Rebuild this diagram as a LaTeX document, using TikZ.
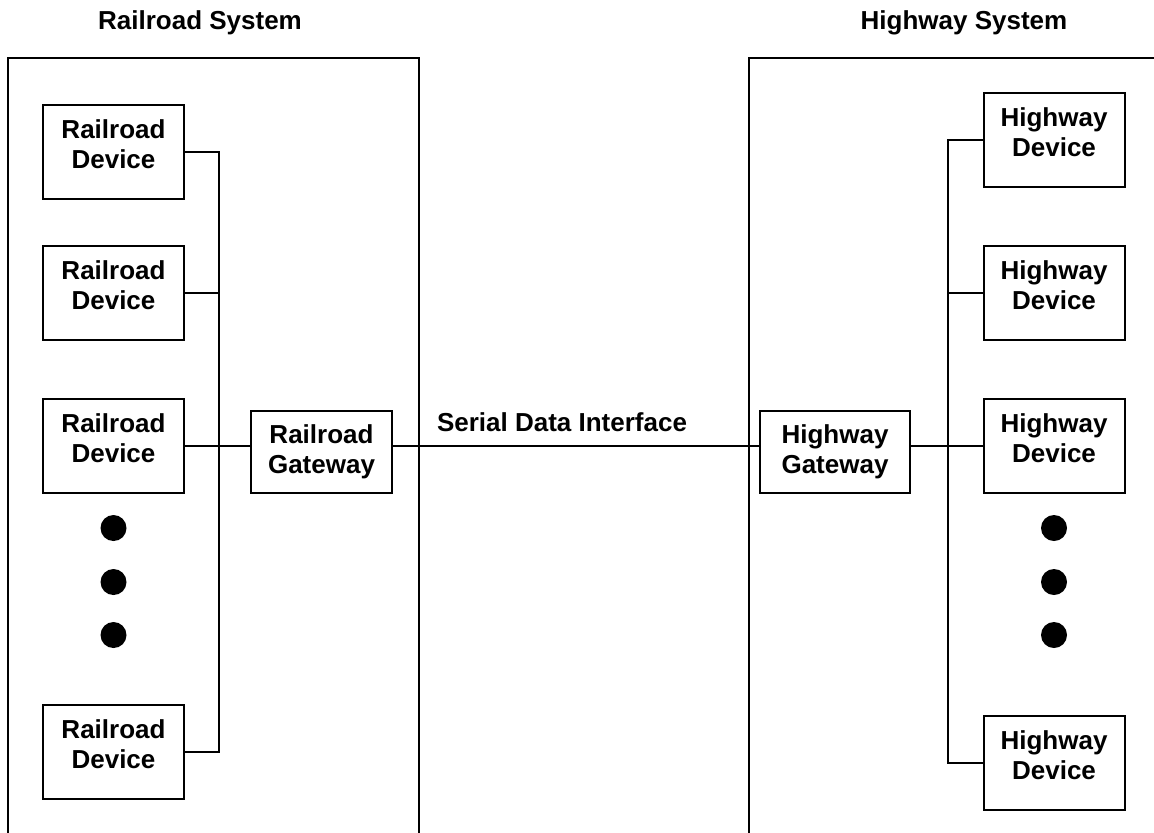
\documentclass[tikz,border=0pt]{standalone}
\usepackage{fontspec}
\setmainfont{Liberation Sans}
\usetikzlibrary{calc}

\begin{document}
\begin{tikzpicture}[x=0.5pt,y=-0.5pt,line width=1pt,
		devbox/.style={draw,minimum width=70.5pt,minimum height=47pt,inner sep=0pt},
		gwbox/.style={draw,minimum height=41pt,inner sep=0pt},
		lbl/.style={font=\fontsize{13}{15}\selectfont\bfseries,align=center,inner sep=0pt}]
		\useasboundingbox (0,0) rectangle (1154,832);
		\clip (0,0) rectangle (1154,832);
		% titles and outer boxes
		\node[lbl] (rtitle) at (200,23) {Railroad System};
		\node[lbl] (htitle) at (964,23) {Highway System};
		\draw (8,845) -- (8,58) -- (419,58) -- (419,845);
		\draw (749,845) -- (749,58) -- (1170,58);
		% railroad side
		\foreach \n/\y in {1/152,2/293,3/446,4/751.5} {
			\node[devbox] (rd\n) at (113.5,\y) {};
			\node[lbl] (rdt\n) at ([yshift=3.75pt]rd\n.center) {Railroad\\Device};
		}
		\node[gwbox,minimum width=70.5pt] (rgw) at (321.5,452) {};
		\node[lbl] (rgwt) at (rgw.center) {Railroad\\Gateway};
		\coordinate (rtop) at (219,152);
		\coordinate (rbot) at (219,751.5);
		\draw (rd1.east) -- (rtop) -- (rbot) -- (rd4.east);
		\foreach \n in {2,3} {
			\draw (rd\n.east) -- (rd\n.east -| rtop);
		}
		\draw (rgw.west |- rd3.east) -- (rd3.east -| rtop);
		\foreach \y in {528,582,635} {
			\fill (113.5,\y) circle[radius=6.5pt];
		}
		% highway side
		\foreach \n/\y in {1/140,2/293,3/446,4/763} {
			\node[devbox] (hd\n) at (1054,\y) {};
			\node[lbl] (hdt\n) at ([yshift=3.75pt]hd\n.center) {Highway\\Device};
		}
		\node[gwbox,minimum width=75pt] (hgw) at (835,452) {};
		\node[lbl] (hgwt) at (hgw.center) {Highway\\Gateway};
		\coordinate (htop) at (948,140);
		\coordinate (hbot) at (948,763);
		\draw (hd1.west) -- (htop) -- (hbot) -- (hd4.west);
		\foreach \n in {2,3} {
			\draw (hd\n.west) -- (hd\n.west -| htop);
		}
		\draw (hgw.east |- hd3.west) -- (hd3.west -| htop);
		\foreach \y in {528,582,635} {
			\fill (1054,\y) circle[radius=6.5pt];
		}
		% serial link
		\draw (rgw.east |- rd3.east) -- node[lbl,above=6.5pt,xshift=-7pt] (sdi) {Serial Data Interface} (hgw.west |- rd3.east);
	\end{tikzpicture}
\end{document}
